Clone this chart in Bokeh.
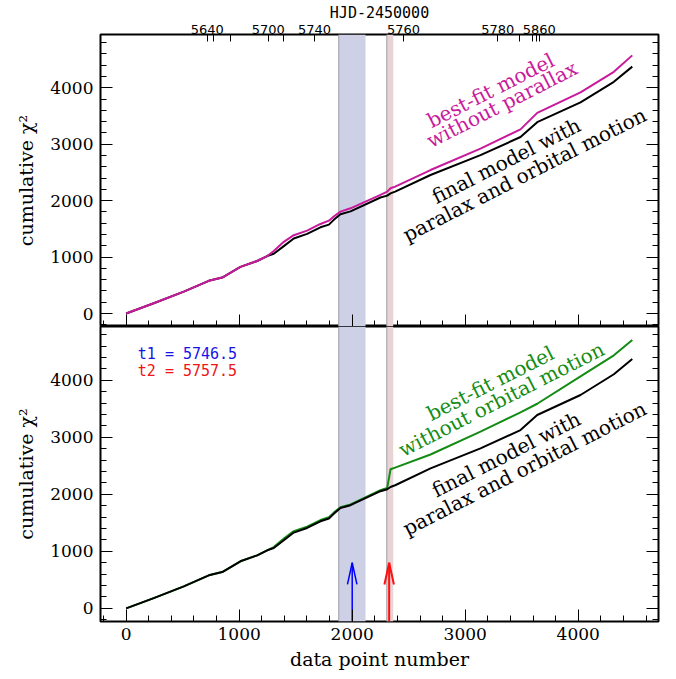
from bokeh.plotting import figure
from bokeh.models import (Range1d, LinearAxis, FixedTicker, SingleIntervalTicker,
                          BoxAnnotation, Span, CustomJSTickFormatter)
from bokeh.layouts import column
from bokeh.embed import file_html
from bokeh.resources import INLINE
from bokeh.core.properties import value
import math

# ---------------- data ----------------
point_index = [0, 244, 510, 731, 850, 1011, 1159, 1248, 1306, 1395, 1483, 1601, 1719, 1794,
               1837, 1896, 1985, 2250, 2310, 2339, 2380, 2693, 3135, 3489, 3637, 4020, 4315, 4478]
chi2_final = [0, 181, 387, 580, 638, 826, 931, 1019, 1060, 1195, 1330, 1411, 1528, 1576,
              1660, 1760, 1810, 2056, 2090, 2130, 2160, 2455, 2806, 3128, 3392, 3743, 4107, 4376]
chi2_no_parallax = [0, 181, 387, 580, 638, 826, 931, 1019, 1107, 1271, 1388, 1470, 1587, 1646,
                    1720, 1805, 1865, 2103, 2160, 2220, 2250, 2543, 2923, 3263, 3556, 3919, 4283, 4575]
chi2_no_orbital = [0, 181, 387, 580, 638, 826, 931, 1019, 1075, 1225, 1355, 1435, 1550, 1600,
                   1680, 1775, 1825, 2075, 2115, 2440, 2470, 2700, 3100, 3440, 3590, 4070, 4440, 4710]

hjd_tick_pos = [717, 775, 923, 1257, 1395, 1666, 2454, 3288, 3481, 3593, 3631, 3655]
hjd_tick_labels = ["5640", "", "", "5700", "", "5740", "5760", "5780", "", "", "", "5860"]
hjd_title = "HJD-2450000"

band_t1 = [1881, 2118]
band_t2 = [2306, 2363]
arrow_t1_x = 2000
arrow_t2_x = 2327
arrow_tip_y = 800
t1_label = "t1 = 5746.5"
t2_label = "t2 = 5757.5"

top_texts = ["best-fit model", "without parallax", "final model with", "paralax and orbital motion"]
bot_texts = ["best-fit model", "without orbital motion", "final model with", "paralax and orbital motion"]
top_text_x = [3225, 3326, 3363, 3525]
top_text_y = [3954, 3708, 2707, 2460]
bot_text_x = [3224, 3321, 3363, 3525]
bot_text_y = [3949, 3668, 2701, 2455]

# ---------------- style ----------------
X_RANGE = (-227, 4710)
Y_RANGE = (-230, 4945)
MAGENTA = "#C81A9B"
GREEN = "#148C14"
SERIF = "DejaVu Serif"
ANGLE = math.radians(27)


def style_axis(ax, labels=True, tick_in=12, minor_in=6):
    ax.major_tick_in = tick_in
    ax.major_tick_out = 0
    ax.minor_tick_in = minor_in
    ax.minor_tick_out = 0
    ax.axis_line_color = None
    ax.major_tick_line_color = "black"
    ax.minor_tick_line_color = "black"
    ax.major_tick_line_width = 1
    ax.minor_tick_line_width = 1
    ax.major_label_text_font = SERIF
    ax.major_label_text_font_size = "17px"
    ax.major_label_text_color = "black"
    ax.axis_label_text_font = SERIF
    ax.axis_label_text_font_size = "19px"
    ax.axis_label_text_font_style = "normal"
    ax.axis_label_text_color = "black"
    ax.major_label_standoff = 7
    if not labels:
        ax.formatter = CustomJSTickFormatter(code="return ''")
        ax.major_label_text_font_size = "1px"
        ax.major_label_standoff = 0


def make_panel(height, border_top, border_bottom):
    p = figure(width=670, height=height, x_range=Range1d(*X_RANGE), y_range=Range1d(*Y_RANGE),
               output_backend="svg", toolbar_location=None,
               x_axis_location=None, y_axis_location=None,
               min_border_left=100, min_border_right=12,
               min_border_top=border_top, min_border_bottom=border_bottom)
    p.xgrid.visible = False
    p.ygrid.visible = False
    p.outline_line_color = "black"
    p.outline_line_width = 2
    p.outline_line_alpha = 1
    p.background_fill_color = "white"
    p.border_fill_color = "white"

    left = LinearAxis(ticker=SingleIntervalTicker(interval=1000, num_minor_ticks=5),
                      axis_label="cumulative χ²")
    style_axis(left)
    left.axis_label_standoff = 10
    p.add_layout(left, "left")
    right = LinearAxis(ticker=SingleIntervalTicker(interval=1000, num_minor_ticks=5))
    style_axis(right, labels=False)
    p.add_layout(right, "right")

    # shaded epochs
    for (a, b), col in ((band_t1, "#CED1E6"), (band_t2, "#E8D3D5")):
        p.add_layout(BoxAnnotation(left=a, right=b, fill_color=col, fill_alpha=1,
                                   line_color=None, level="underlay"))
        p.add_layout(Span(location=a, dimension="height", line_color="#9C9CA4",
                          line_width=1, level="underlay"))
    return p


# ---------------- top panel ----------------
p1 = make_panel(326, 32, 0)
bot1 = LinearAxis(ticker=SingleIntervalTicker(interval=1000, num_minor_ticks=5))
style_axis(bot1, labels=False)
p1.add_layout(bot1, "below")

top_ax = LinearAxis(ticker=FixedTicker(ticks=hjd_tick_pos, minor_ticks=[]),
                    major_label_overrides={t: l for t, l in zip(hjd_tick_pos, hjd_tick_labels)},
                    axis_label=hjd_title)
style_axis(top_ax, tick_in=7, minor_in=0)
top_ax.minor_tick_line_color = None
top_ax.major_label_text_font = "DejaVu Sans"
top_ax.major_label_text_font_size = "13px"
top_ax.major_label_standoff = 1
top_ax.axis_label_text_font = "DejaVu Sans Mono"
top_ax.axis_label_text_font_size = "15px"
top_ax.axis_label_standoff = 0
p1.add_layout(top_ax, "above")

p1.line(point_index, chi2_final, line_color="black", line_width=2, line_join="round")
p1.line(point_index, chi2_no_parallax, line_color=MAGENTA, line_width=2, line_join="round")

p1.text(x=top_text_x[:2], y=top_text_y[:2], text=top_texts[:2], angle=ANGLE,
        text_font=value(SERIF), text_font_size="20px", text_color=MAGENTA,
        text_align="center", text_baseline="middle")
p1.text(x=top_text_x[2:], y=top_text_y[2:], text=top_texts[2:], angle=ANGLE,
        text_font=value(SERIF), text_font_size="20px", text_color="black",
        text_align="center", text_baseline="middle")

# ---------------- bottom panel ----------------
p2 = make_panel(350, 0, 55)
bot2 = LinearAxis(ticker=SingleIntervalTicker(interval=1000, num_minor_ticks=5),
                  axis_label="data point number")
style_axis(bot2)
bot2.major_label_standoff = 6
bot2.axis_label_standoff = 5
p2.add_layout(bot2, "below")

p2.line(point_index, chi2_no_orbital, line_color=GREEN, line_width=2, line_join="round")
p2.line(point_index, chi2_final, line_color="black", line_width=2, line_join="round")

p2.text(x=bot_text_x[:2], y=bot_text_y[:2], text=bot_texts[:2], angle=ANGLE,
        text_font=value(SERIF), text_font_size="20px", text_color=GREEN,
        text_align="center", text_baseline="middle")
p2.text(x=bot_text_x[2:], y=bot_text_y[2:], text=bot_texts[2:], angle=ANGLE,
        text_font=value(SERIF), text_font_size="20px", text_color="black",
        text_align="center", text_baseline="middle")

p2.text(x=[103], y=[4471], text=[t1_label], text_font=value("DejaVu Sans Mono"),
        text_font_size="15px", text_color="#1414E6", text_align="left", text_baseline="middle")
p2.text(x=[103], y=[4165], text=[t2_label], text_font=value("DejaVu Sans Mono"),
        text_font_size="15px", text_color="#F01414", text_align="left", text_baseline="middle")

# arrows marking t1 and t2
head_len = 380
head_half = 42
for ax_x, col, lw in ((arrow_t1_x, "#0000FF", 1.5), (arrow_t2_x, "#FF1010", 2)):
    p2.segment(x0=[ax_x], y0=[Y_RANGE[0]], x1=[ax_x], y1=[arrow_tip_y], line_color=col, line_width=lw)
    p2.line(x=[ax_x - head_half, ax_x, ax_x + head_half],
            y=[arrow_tip_y - head_len, arrow_tip_y, arrow_tip_y - head_len],
            line_color=col, line_width=lw)

layout = column(p1, p2, spacing=0)
open("out.html", "w").write(file_html(layout, INLINE))
